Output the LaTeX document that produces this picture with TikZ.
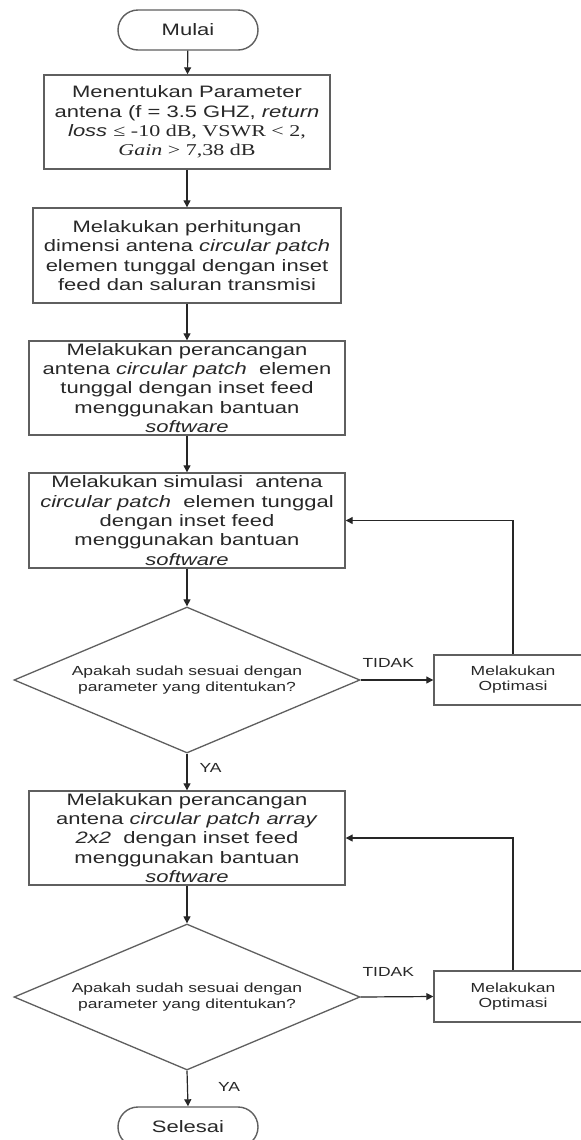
\documentclass[tikz,border=0pt]{standalone}
\usepackage{fontspec}
\setmainfont{Liberation Sans}[FakeStretch=1.33]
\newfontfamily\tnr{Liberation Serif}[FakeStretch=1.33]
\usetikzlibrary{arrows.meta,shapes.geometric,shapes.misc}
\definecolor{boxline}{RGB}{95,95,95}
\definecolor{txt}{RGB}{40,40,40}
\tikzset{
  procbox/.style={draw=boxline, line width=1.4bp, rectangle, inner sep=0pt, align=center,
    text=txt, font=\fontsize{16.6}{19.4}\selectfont},
  term/.style={draw=boxline, line width=1.4bp, rounded rectangle, inner sep=0pt,
    text=txt, font=\fontsize{16.6}{19.4}\selectfont, minimum width=140bp, minimum height=40bp},
  dec/.style={draw=boxline, line width=1.3bp, diamond, inner sep=0pt,
    minimum width=346bp, minimum height=146bp},
  dtext/.style={align=center, text=txt, inner sep=0pt, font=\fontsize{13.2}{15.8}\selectfont},
  optbox/.style={draw=boxline, line width=1.4bp, rectangle, inner sep=0pt, align=center,
    text=txt, font=\fontsize{13.2}{15.2}\selectfont, minimum height=50bp},
  lbl/.style={text=txt, inner sep=0pt, font=\fontsize{13.2}{15}\selectfont},
  arr/.style={-{Triangle[length=7bp,width=7bp]}, line width=1.2bp, draw=black!85},
}
\begin{document}
\begin{tikzpicture}[x=1bp,y=-1bp]
\useasboundingbox (0,0) rectangle (581,1140);
\fill[white] (0,0) rectangle (581,1140);
\clip (0,0) rectangle (581,1140);

\node[term] (start) at (188,30) {Mulai};
\node[procbox, minimum width=286bp, minimum height=94bp] (b1) at (187,122)
  {Menentukan Parameter\\ antena (f = 3.5 GHZ, \textit{return}\\ \textit{loss} {\tnr ≤ -10 dB, VSWR < 2,}\\ {\tnr\textit{Gain} > 7,38 dB}};
\node[procbox, minimum width=308bp, minimum height=95bp] (b2) at (187,255.5)
  {Melakukan perhitungan\\ dimensi antena \textit{circular patch}\\ elemen tunggal dengan inset\\ feed dan saluran transmisi};
\node[procbox, minimum width=316bp, minimum height=94bp] (b3) at (187,388)
  {Melakukan perancangan\\ antena \textit{circular patch}\ \ elemen\\ tunggal dengan inset feed\\ menggunakan bantuan\\ \textit{software}};
\node[procbox, minimum width=316bp, minimum height=95bp] (b4) at (187,520.5)
  {Melakukan simulasi\ \ antena\\ \textit{circular patch}\ \ elemen tunggal\\ dengan inset feed\\ menggunakan bantuan\\ \textit{software}};
\node[dec] (d1) at (187,680) {};
\node[dtext] (d1t) at (d1.center) {Apakah sudah sesuai dengan\\ parameter yang ditentukan?};
\node[optbox, minimum width=158bp] (o1) at (513,680) {Melakukan\\ Optimasi};
\node[procbox, minimum width=316bp, minimum height=94bp] (b5) at (187,838)
  {Melakukan perancangan\\ antena \textit{circular patch array}\\ \textit{2x2}\ \ dengan inset feed\\ menggunakan bantuan\\ \textit{software}};
\node[dec] (d2) at (187,997) {};
\node[dtext] (d2t) at (d2.center) {Apakah sudah sesuai dengan\\ parameter yang ditentukan?};
\node[optbox, minimum width=158bp, minimum height=51bp] (o2) at (513,996.5) {Melakukan\\ Optimasi};
\node[term] (stop) at (188,1127) {Selesai};

\draw[arr] (start) -- (b1);
\draw[arr] (b1) -- (b2);
\draw[arr] (b2) -- (b3);
\draw[arr] (b3) -- (b4);
\draw[arr] (b4) -- (d1.north);
\draw[arr] (d1.east) -- node[lbl, pos=0.38, above=12bp] (t1) {TIDAK} (o1.west);
\draw[arr] (o1.north) |- (b4.east);
\draw[arr] (d1.south) -- node[lbl, right=12bp, pos=0.4] (y1) {YA} (b5.north);
\draw[arr] (b5) -- (d2.north);
\draw[arr] (d2.east) -- node[lbl, pos=0.38, above=20bp] (t2) {TIDAK} (o2.west);
\draw[arr] (o2.north) |- (b5.east);
\draw[arr] (d2.south) -- node[lbl, right=30bp, pos=0.45] (y2) {YA} (stop.north);
\end{tikzpicture}
\end{document}
